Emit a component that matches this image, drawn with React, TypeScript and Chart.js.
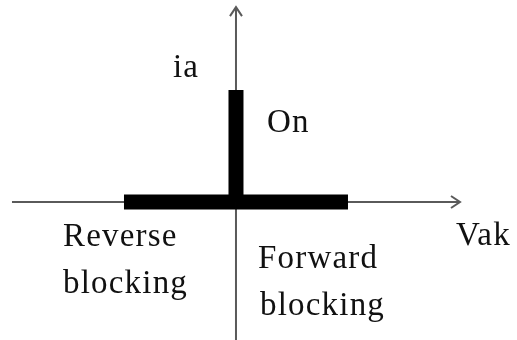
import React, { useEffect, useRef } from "react";
import { Chart, registerables } from "chart.js";

Chart.register(...registerables);

// Axis extents (normalised units: Vak, ia)
const vakAxis = [-2, 2];
const iaAxis = [-1.25, 1.74];
// Characteristic segments
const reverseBlockingVak = [-1, 0];
const forwardBlockingVak = [0, 1];
const onStateIa = [0, 1];

// Labels
const labelTexts = ["ia", "On", "Reverse", "blocking", "Forward", "blocking", "Vak"];
const labelAnchors = [
  [-0.5625, 1.116],
  [0.277, 0.625],
  [-1.545, -0.393],
  [-1.545, -0.812],
  [0.196, -0.589],
  [0.214, -1.009],
  [1.964, -0.384],
];

const AXIS_COLOR = "#5a5a5a";
const BAR_COLOR = "#000000";

export default function App() {
  const ref = useRef<HTMLCanvasElement | null>(null);

  useEffect(() => {
    const canvas = ref.current;
    if (!canvas) return;

    const overlay = {
      id: "overlay",
      afterDatasetsDraw(chart: any) {
        const ctx = chart.ctx;
        const xs = chart.scales.x;
        const ys = chart.scales.y;
        ctx.save();
        // arrow heads
        ctx.strokeStyle = AXIS_COLOR;
        ctx.lineWidth = 2;
        ctx.lineJoin = "miter";
        const tx = xs.getPixelForValue(vakAxis[1]);
        const ty = ys.getPixelForValue(0);
        ctx.beginPath();
        ctx.moveTo(tx - 9, ty - 6);
        ctx.lineTo(tx, ty);
        ctx.lineTo(tx - 9, ty + 6);
        ctx.stroke();
        const ux = xs.getPixelForValue(0);
        const uy = ys.getPixelForValue(iaAxis[1]);
        ctx.beginPath();
        ctx.moveTo(ux - 6, uy + 9);
        ctx.lineTo(ux, uy);
        ctx.lineTo(ux + 6, uy + 9);
        ctx.stroke();
        // labels
        ctx.fillStyle = "#111";
        ctx.font = "33px 'Liberation Serif', 'DejaVu Serif', serif";
        try { (ctx as any).letterSpacing = "1.2px"; } catch (e) {}
        ctx.textAlign = "left";
        ctx.textBaseline = "alphabetic";
        labelTexts.forEach((t, i) => {
          const [vx, vy] = labelAnchors[i];
          ctx.fillText(t, xs.getPixelForValue(vx), ys.getPixelForValue(vy));
        });
        ctx.restore();
      },
    };

    const line = (pts: { x: number; y: number }[], color: string, w: number, order: number) => ({
      data: pts,
      showLine: true,
      borderColor: color,
      backgroundColor: color,
      borderWidth: w,
      borderCapStyle: "butt" as const,
      pointRadius: 0,
      pointHoverRadius: 0,
      clip: false as any,
      order,
    });

    const chart = new Chart(canvas, {
      type: "scatter",
      data: {
        datasets: [
          line([{ x: reverseBlockingVak[0], y: 0 }, { x: reverseBlockingVak[1], y: 0 }], BAR_COLOR, 15, 0),
          line([{ x: forwardBlockingVak[0], y: 0 }, { x: forwardBlockingVak[1], y: 0 }], BAR_COLOR, 15, 1),
          line([{ x: 0, y: onStateIa[0] }, { x: 0, y: onStateIa[1] }], BAR_COLOR, 15, 2),
          line([{ x: vakAxis[0], y: 0 }, { x: vakAxis[1], y: 0 }], AXIS_COLOR, 2, 3),
          line([{ x: 0, y: iaAxis[0] }, { x: 0, y: iaAxis[1] }], AXIS_COLOR, 2, 4),
        ],
      },
      options: {
        responsive: false,
        animation: false,
        devicePixelRatio: 1,
        layout: { padding: 0 },
        plugins: { legend: { display: false }, tooltip: { enabled: false } },
        events: [],
        scales: {
          x: { type: "linear", display: false, min: -2.107, max: 2.509 },
          y: { type: "linear", display: false, min: -1.232, max: 1.804 },
        },
      },
      plugins: [overlay],
    });
    return () => chart.destroy();
  }, []);

  return (
    <div style={{ position: "absolute", left: 0, top: 0, width: 517, height: 340, background: "#fff" }}>
      <canvas ref={ref} width={517} height={340} style={{ display: "block" }} />
    </div>
  );
}
